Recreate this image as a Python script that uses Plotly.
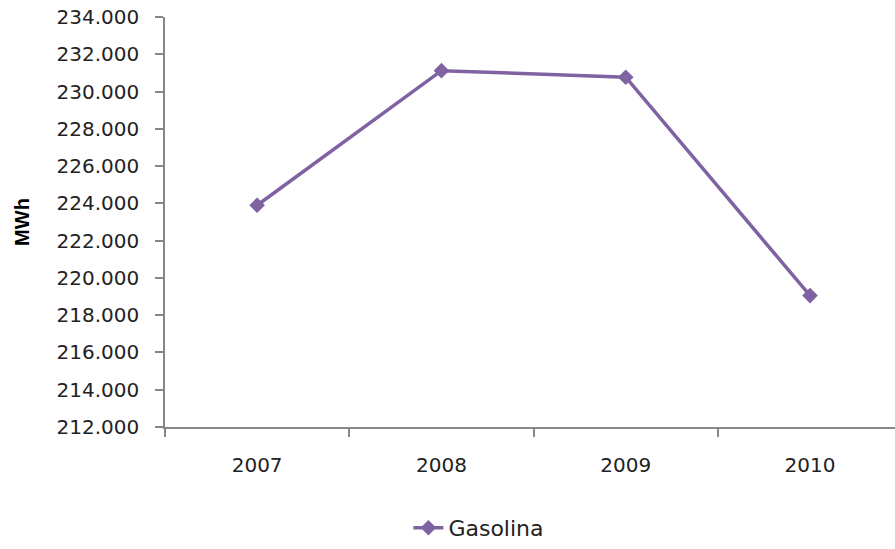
import plotly.graph_objects as go

# data
years = ["2007", "2008", "2009", "2010"]
gasolina = [223900, 231120, 230770, 219050]

y_ticks = list(range(212000, 234001, 2000))

fig = go.Figure()
fig.add_trace(go.Scatter(
    x=years, y=gasolina, name="Gasolina", mode="lines+markers",
    line=dict(color="#7F62A1", width=3.5),
    marker=dict(symbol="diamond", size=12, color="#7F62A1"),
))

axis_grey = "#868686"
fig.update_layout(
    width=895, height=549,
    margin=dict(l=165, r=0, t=17, b=121),
    paper_bgcolor="white", plot_bgcolor="white",
    separators=",.",
    font=dict(family="DejaVu Sans", color="#222222", size=20),
    showlegend=True,
    legend=dict(orientation="h", x=0.43, xanchor="center", y=-0.247, yanchor="middle",
                font=dict(size=22)),
)
fig.update_xaxes(
    type="category", range=[-0.5, 3.461],
    showline=True, linecolor=axis_grey, linewidth=1.5,
    ticks="outside", tickson="boundaries", ticklen=8, tickcolor=axis_grey, tickwidth=1.5,
    showgrid=False, tickfont=dict(size=20), ticklabelstandoff=19,
)
fig.update_yaxes(
    range=[212000, 234000], tickvals=y_ticks, tickformat=",.0f",
    showline=True, linecolor=axis_grey, linewidth=1.5,
    ticks="outside", ticklen=8, tickcolor=axis_grey, tickwidth=1.5,
    showgrid=False, zeroline=False, tickfont=dict(size=20), ticklabelstandoff=12,
    title=dict(text="<b>MWh</b>", font=dict(size=20, family="Liberation Sans", color="black"), standoff=22),
)

# drop the default page margin so the figure sits at the window origin
fig.write_html("out.html", config={"displayModeBar": False},
               post_script="document.body.style.margin='0';document.body.style.overflow='hidden';")
